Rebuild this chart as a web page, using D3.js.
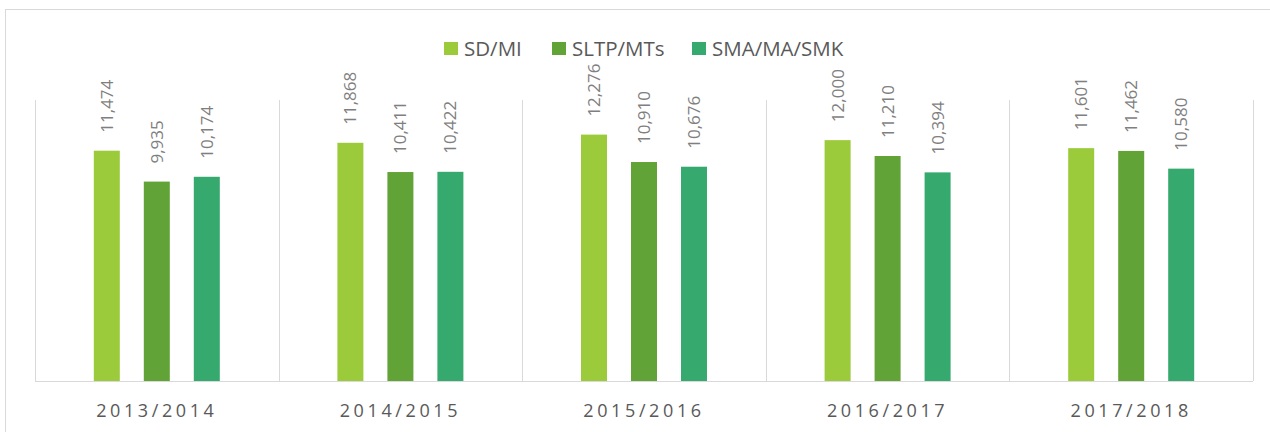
<!DOCTYPE html>
<html>
<head>
<meta charset="utf-8">
<script src="https://cdn.jsdelivr.net/npm/d3@7"></script>
<style>
  body { margin: 0; background: #fff; }
  text { font-family: "Open Sans", "Noto Sans", sans-serif; }
</style>
</head>
<body>
<svg id="chart"></svg>
<script>
var years = ["2013/2014", "2014/2015", "2015/2016", "2016/2017", "2017/2018"];
var series = ["SD/MI", "SLTP/MTs", "SMA/MA/SMK"];
var sdmi = [11474, 11868, 12276, 12000, 11601];
var sltp = [9935, 10411, 10910, 11210, 11462];
var sma = [10174, 10422, 10676, 10394, 10580];
var colors = ["#9bca3b", "#62a337", "#36a96f"];

var values = [sdmi, sltp, sma];

var W = 1270, H = 432;
var svg = d3.select("#chart").attr("width", W).attr("height", H);

// outer border of the chart area
svg.append("rect")
  .attr("x", 5.5).attr("y", 9.5)
  .attr("width", 1280).attr("height", 440)
  .attr("fill", "none").attr("stroke", "#d9d9d9").attr("stroke-width", 1);

var pLeft = 35, pRight = 1253, pTop = 100, pBottom = 381;

var x = d3.scaleBand().domain(years).range([pLeft, pRight]).paddingInner(0).paddingOuter(0);
var x1 = d3.scaleBand().domain(series).range([x.bandwidth() / 2 - 75, x.bandwidth() / 2 + 75]).paddingInner(0.48).paddingOuter(0.24);
var y = d3.scaleLinear().domain([0, 14000]).range([pBottom, pTop]);

// category separators
var edges = years.map(function(d) { return x(d); }).concat([pRight]);
svg.selectAll(".sep").data(edges).enter().append("line")
  .attr("x1", function(d) { return Math.round(d) + 0.5; })
  .attr("x2", function(d) { return Math.round(d) + 0.5; })
  .attr("y1", pTop).attr("y2", pBottom)
  .attr("stroke", "#d9d9d9").attr("stroke-width", 1);

var groups = svg.selectAll(".grp").data(years).enter().append("g")
  .attr("transform", function(d) { return "translate(" + x(d) + ",0)"; });

groups.each(function(yr, i) {
  var g = d3.select(this);
  series.forEach(function(s, j) {
    var v = values[j][i];
    g.append("rect")
      .attr("x", x1(s)).attr("width", x1.bandwidth())
      .attr("y", y(v)).attr("height", pBottom - y(v))
      .attr("fill", colors[j]);
    var cx = x1(s) + x1.bandwidth() / 2;
    g.append("text")
      .attr("transform", "translate(" + (cx + 6) + "," + (y(v) - 18) + ") rotate(-90)")
      .attr("fill", "#7f7f7f")
      .attr("font-size", 17)
      .text(d3.format(",")(v));
  });
});

// baseline
svg.append("line")
  .attr("x1", pLeft).attr("x2", pRight)
  .attr("y1", pBottom + 0.5).attr("y2", pBottom + 0.5)
  .attr("stroke", "#d9d9d9").attr("stroke-width", 1);

// x axis labels
svg.selectAll(".xl").data(years).enter().append("text")
  .attr("x", function(d) { return x(d) + x.bandwidth() / 2; })
  .attr("y", 417)
  .attr("text-anchor", "middle")
  .attr("fill", "#595959")
  .attr("font-size", 18)
  .attr("letter-spacing", "3.6px")
  .text(function(d) { return d; });

// legend
var legX = [444, 552, 692];
var leg = svg.selectAll(".leg").data(series).enter().append("g")
  .attr("transform", function(d, i) { return "translate(" + legX[i] + ",42)"; });
leg.append("rect").attr("width", 14).attr("height", 13)
  .attr("fill", function(d, i) { return colors[i]; });
leg.append("text")
  .attr("x", 20).attr("y", 14)
  .attr("fill", "#595959")
  .attr("font-size", 20.5)
  .text(function(d) { return d; });
</script>
</body>
</html>
